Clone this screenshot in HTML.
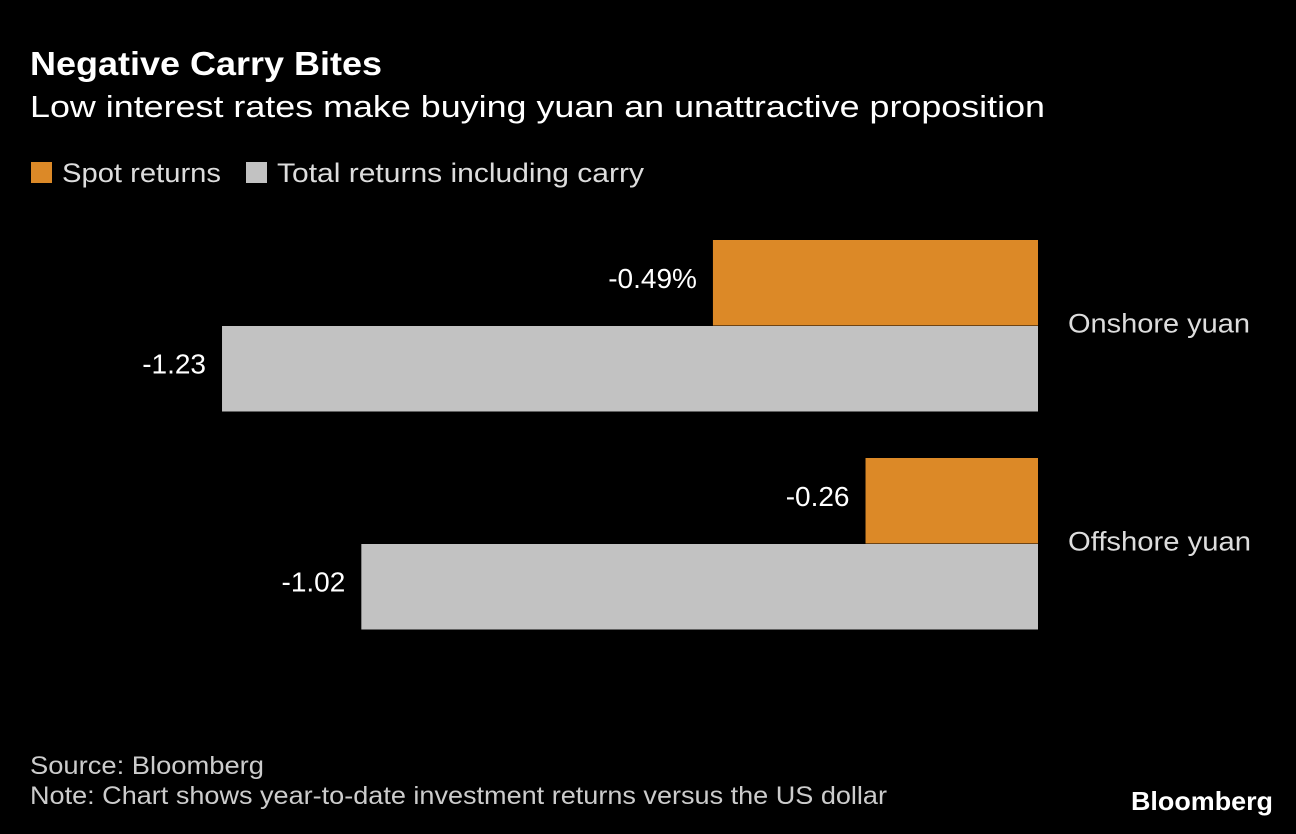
<!DOCTYPE html>
<html><head><meta charset="utf-8"><style>
html,body{margin:0;padding:0;background:#000;}
svg{display:block;font-family:"Liberation Sans",sans-serif;}
</style></head><body>
<svg id="chart" width="1296" height="834" viewBox="0 0 1296 834" xmlns="http://www.w3.org/2000/svg">
<rect width="1296" height="834" fill="#000"/>
<text x="30" y="75" fill="#fff" font-size="33" font-weight="bold" textLength="352" lengthAdjust="spacingAndGlyphs">Negative Carry Bites</text>
<text x="30" y="117" fill="#fff" font-size="31" textLength="1015" lengthAdjust="spacingAndGlyphs">Low interest rates make buying yuan an unattractive proposition</text>
<g>
<rect x="31" y="162" width="21" height="21" fill="#dc8927"/>
<text x="62" y="182" fill="#ddd" font-size="27" textLength="159" lengthAdjust="spacingAndGlyphs">Spot returns</text>
<rect x="246" y="162" width="21" height="21" fill="#c2c2c2"/>
<text x="277" y="182" fill="#ddd" font-size="27" textLength="367" lengthAdjust="spacingAndGlyphs">Total returns including carry</text>
</g>
<g id="bars"></g>
<text x="30" y="774" fill="#ccc" font-size="25" textLength="234" lengthAdjust="spacingAndGlyphs">Source: Bloomberg</text>
<text x="30" y="804" fill="#ccc" font-size="25" textLength="857" lengthAdjust="spacingAndGlyphs">Note: Chart shows year-to-date investment returns versus the US dollar</text>
<text x="1131" y="810" fill="#fff" font-size="26" font-weight="bold" textLength="142" lengthAdjust="spacingAndGlyphs">Bloomberg</text>
</svg>
<script>
const categories = ["Onshore yuan", "Offshore yuan"];
const spotValues = [-0.49, -0.26];
const totalValues = [-1.23, -1.02];
const spotLabels = ["-0.49%", "-0.26"];
const totalLabels = ["-1.23", "-1.02"];

const NS = "http://www.w3.org/2000/svg";
const g = document.getElementById("bars");
const zeroX = 1038, pxPerUnit = 663.4;
const xScale = v => zeroX + v * pxPerUnit;
const groupTop = i => 240 + i * 218;
const barH = 85.5;
function mk(tag, attrs) { const e = document.createElementNS(NS, tag); for (const k in attrs) e.setAttribute(k, attrs[k]); g.appendChild(e); return e; }
categories.forEach((c, i) => {
  const y0 = groupTop(i);
  const sx = xScale(spotValues[i]);
  const r1 = mk("rect", {x: sx, y: y0, width: zeroX - sx, height: barH, fill: "#dc8927"});
  
  
  const tx = xScale(totalValues[i]);
  const r2 = mk("rect", {x: tx, y: y0 + barH + 0.5, width: zeroX - tx, height: barH, fill: "#c2c2c2"});
  
  
  const l1 = mk("text", {x: sx - 16, y: y0 + barH / 2 + 5, fill: "#fff", "font-size": 28, "text-anchor": "end"});
  l1.textContent = spotLabels[i];
  
  
  const l2 = mk("text", {x: tx - 16, y: y0 + barH * 1.5 + 5, fill: "#fff", "font-size": 28, "text-anchor": "end"});
  l2.textContent = totalLabels[i];
  
  
  const cl = mk("text", {x: 1068, y: y0 + barH + 7, fill: "#ddd", "font-size": 27, textLength: (i === 0 ? 182 : 183), lengthAdjust: "spacingAndGlyphs"});
  cl.textContent = c;
  
  
});
</script>
</body></html>
